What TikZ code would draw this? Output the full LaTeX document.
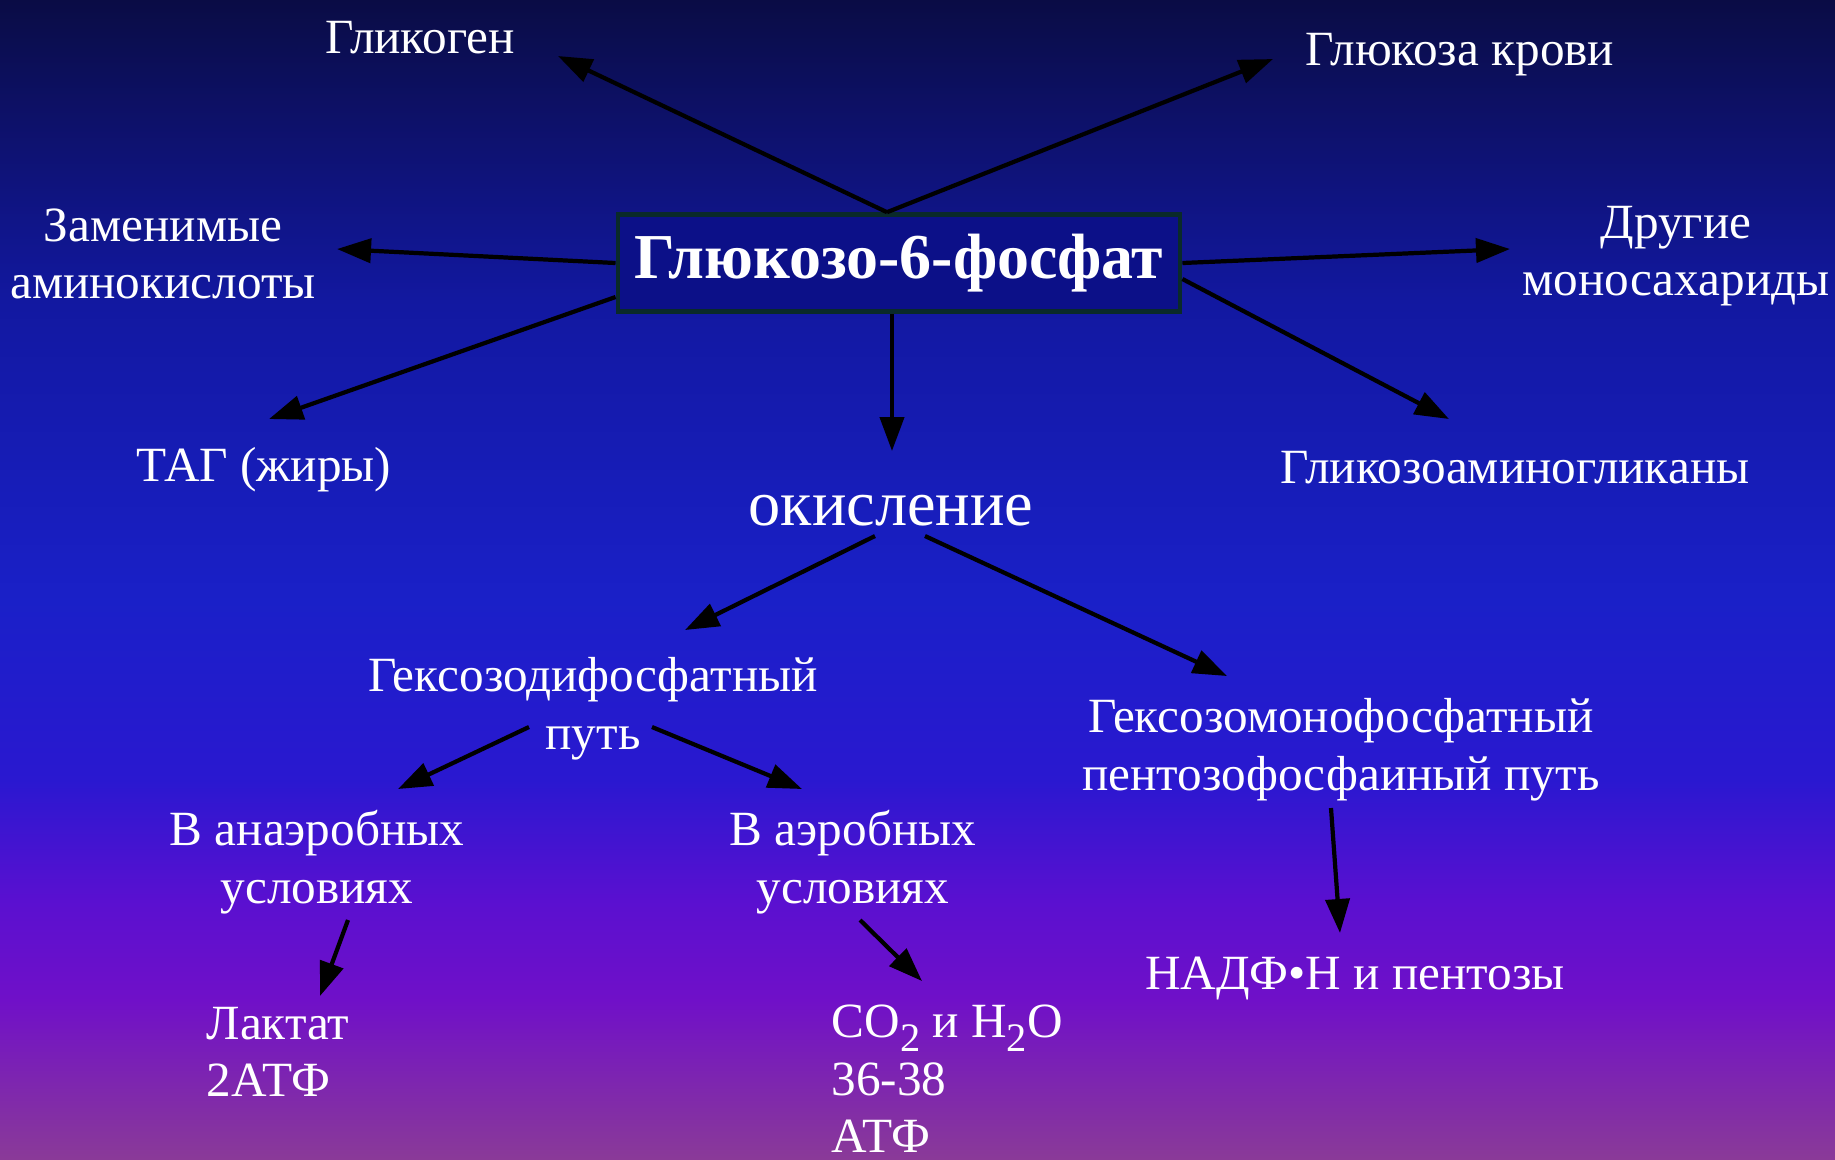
\documentclass[tikz,border=0pt]{standalone}
\usepackage{fontspec}
\setmainfont{Liberation Serif}
\usetikzlibrary{arrows.meta,calc}
\definecolor{bgA}{HTML}{0A0C45}
\definecolor{bgB}{HTML}{1218A0}
\definecolor{bgC}{HTML}{1A20C8}
\definecolor{bgD}{HTML}{2A18D0}
\definecolor{bgE}{HTML}{5A10D0}
\definecolor{bgF}{HTML}{7010C8}
\definecolor{bgG}{HTML}{8A3A98}
\definecolor{boxfill}{HTML}{0C1088}
\definecolor{boxline}{HTML}{0A2A2A}
\newcommand{\lowtwo}{\raisebox{-0.6ex}{\fontsize{11.5}{11.5}\selectfont 2}}
\begin{document}
\begin{tikzpicture}[x=0.01cm,y=-0.01cm,
  lbl/.style={text=white,align=center,inner sep=0pt,font=\fontsize{14}{16.4}\selectfont},
  arr/.style={line width=1.2pt,-{Triangle[length=0.34cm,width=0.24cm]}}]
\useasboundingbox (0,0) rectangle (1835,1159);
\shade[top color=bgA,bottom color=bgB] (0,0) rectangle (1835,301);
\shade[top color=bgB,bottom color=bgC] (0,300) rectangle (1835,601);
\shade[top color=bgC,bottom color=bgD] (0,600) rectangle (1835,781);
\shade[top color=bgD,bottom color=bgE] (0,780) rectangle (1835,901);
\shade[top color=bgE,bottom color=bgF] (0,900) rectangle (1835,1001);
\shade[top color=bgF,bottom color=bgG] (0,1000) rectangle (1835,1159);

\node[draw=boxline,fill=boxfill,line width=1.3pt,minimum width=5.62cm,minimum height=0.97cm,
  inner xsep=1pt,text=white,font=\fontsize{18.2}{22}\selectfont\bfseries] (g6p) at (899,263) {Глюкозо-6-фосфат};
\node[lbl] (glycogen) at (420,38) {Гликоген};
\node[lbl] (blood) at (1460,55) {Глюкоза крови};
\node[lbl] (amino) at (163,254) {Заменимые\\аминокислоты};
\node[lbl] (mono) at (1676,256) {Другие\\моносахариды};
\node[lbl] (tag) at (264,470) {ТАГ (жиры)};
\node[lbl] (gag) at (1515,468) {Гликозоаминогликаны};
\node[lbl,font=\fontsize{18.3}{21}\selectfont] (oxid) at (891,511) {окисление};
\node[lbl] (hdp) at (593,709) {Гексозодифосфатный\\путь};
\node[lbl] (hmp) at (1341,750) {Гексозомонофосфатный\\пентозофосфаиный путь};
\node[lbl] (anaer) at (317,862) {В анаэробных\\условиях};
\node[lbl] (aer) at (853,862) {В аэробных\\условиях};
\node[lbl] (nadph) at (1355,978) {НАДФ•Н и пентозы};
\node[lbl,align=left,anchor=west] (lact) at (206,1052) {Лактат\\2АТФ};
\node[lbl,align=left,anchor=west] (co2) at (831,1079) {CO\lowtwo{} и H\lowtwo O\\36-38\\АТФ};

\draw[arr] ($(g6p.north)+(-12,0)$) -- ($(glycogen)+(138,18)$);
\draw[arr] ($(g6p.north)+(-12,0)$) -- ($(blood)+(-187,4)$);
\draw[arr] (g6p.west) -- ($(amino)+(174,-5)$);
\draw[arr] ($(g6p.west)+(0,34)$) -- ($(tag)+(5,-51)$);
\draw[arr] ($(g6p.south)+(-7,0)$) -- ($(oxid)+(1,-60)$);
\draw[arr] (g6p.east) -- ($(mono)+(-166,-7)$);
\draw[arr] ($(g6p.east)+(0,16)$) -- ($(gag)+(-66,-49)$);
\draw[arr] ($(oxid)+(-16,25)$) -- ($(hdp)+(92,-79)$);
\draw[arr] ($(oxid)+(34,25)$) -- ($(hmp)+(-114,-74)$);
\draw[arr] ($(hdp)+(-64,18)$) -- ($(anaer)+(81,-73)$);
\draw[arr] ($(hdp)+(59,18)$) -- ($(aer)+(-51,-73)$);
\draw[arr] ($(anaer)+(31,58)$) -- ($(lact.west)+(114,-56)$);
\draw[arr] ($(aer)+(7,58)$) -- ($(co2.west)+(91,-98)$);
\draw[arr] ($(hmp)+(-10,58)$) -- ($(nadph)+(-15,-45)$);
\end{tikzpicture}
\end{document}
